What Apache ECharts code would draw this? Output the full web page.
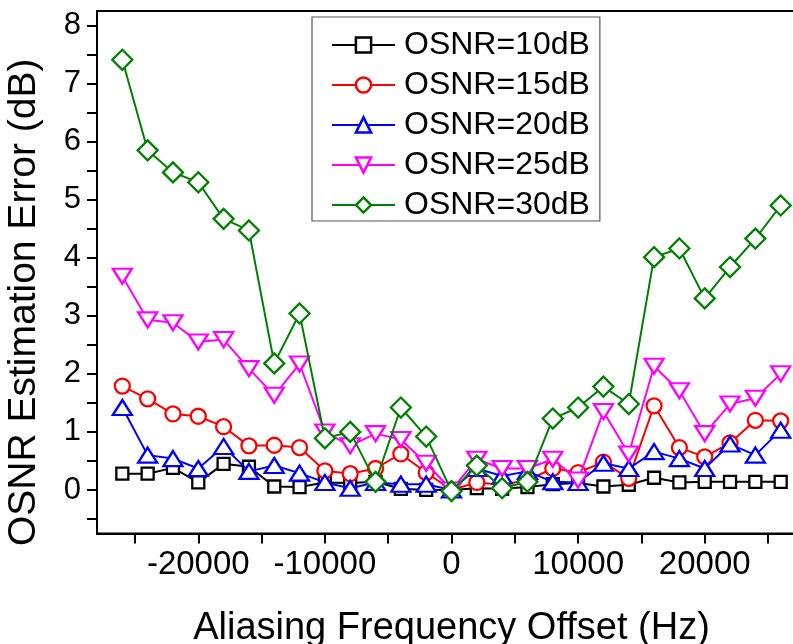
<!DOCTYPE html>
<html>
<head>
<meta charset="utf-8">
<title>OSNR Estimation Error</title>
<script src="https://cdn.jsdelivr.net/npm/echarts@6/dist/echarts.min.js"></script>
<style>
  html, body { margin: 0; padding: 0; background: #fff; }
  #chart { width: 793px; height: 644px; }
</style>
</head>
<body>
<div id="chart"></div>
<script>
// Aliasing frequency offsets (Hz)
const freqOffsets = [-26000, -24000, -22000, -20000, -18000, -16000, -14000, -12000, -10000,
  -8000, -6000, -4000, -2000, 0, 2000, 4000, 6000, 8000, 10000, 12000, 14000, 16000, 18000,
  20000, 22000, 24000, 26000];

// OSNR estimation error (dB) for each OSNR setting
const osnr10 = [0.28, 0.28, 0.38, 0.13, 0.45, 0.40, 0.06, 0.05, 0.13, 0.12, 0.14, 0.02, 0.00,
  0.00, 0.03, 0.02, 0.05, 0.10, 0.12, 0.06, 0.09, 0.21, 0.13, 0.14, 0.14, 0.14, 0.14];
const osnr15 = [1.79, 1.57, 1.31, 1.27, 1.09, 0.76, 0.77, 0.73, 0.33, 0.28, 0.37, 0.62, 0.30,
  0.00, 0.13, 0.09, 0.17, 0.37, 0.30, 0.48, 0.20, 1.45, 0.73, 0.57, 0.81, 1.20, 1.19];
const osnr20 = [1.42, 0.60, 0.54, 0.37, 0.75, 0.32, 0.42, 0.29, 0.13, 0.03, 0.13, 0.10, 0.10,
  0.00, 0.37, 0.24, 0.32, 0.14, 0.13, 0.46, 0.37, 0.66, 0.54, 0.37, 0.79, 0.60, 1.03];
const osnr25 = [3.68, 2.93, 2.88, 2.55, 2.59, 2.09, 1.63, 2.17, 1.00, 0.76, 0.97, 0.87, 0.46,
  0.00, 0.53, 0.37, 0.37, 0.53, 0.17, 1.35, 0.62, 2.13, 1.71, 0.97, 1.48, 1.58, 2.00];
const osnr30 = [7.41, 5.85, 5.47, 5.30, 4.67, 4.47, 2.18, 3.04, 0.89, 1.00, 0.14, 1.42, 0.92,
  -0.02, 0.42, 0.03, 0.14, 1.23, 1.42, 1.78, 1.48, 4.01, 4.16, 3.30, 3.84, 4.33, 4.90];

// Tick marks and labelled ticks on each axis
const xTickValues = [-25000, -20000, -15000, -10000, -5000, 0, 5000, 10000, 15000, 20000, 25000];
const xTickLabels = [-20000, -10000, 0, 10000, 20000];
const yTickValues = [-0.5, 0, 0.5, 1, 1.5, 2, 2.5, 3, 3.5, 4, 4.5, 5, 5.5, 6, 6.5, 7, 7.5, 8];
const yTickLabels = [0, 1, 2, 3, 4, 5, 6, 7, 8];

const seriesNames = ['OSNR=10dB', 'OSNR=15dB', 'OSNR=20dB', 'OSNR=25dB', 'OSNR=30dB'];
const seriesValues = [osnr10, osnr15, osnr20, osnr25, osnr30];
const seriesColors = ['#000000', '#ff0000', '#0000ff', '#ff00ff', '#008000'];
const seriesSymbols = ['rect', 'circle', 'triangle', 'triangle', 'diamond'];
const symbolSizes = [[12, 12], 15, [19, 15], [19, 15], [20, 20]];
const symbolRotations = [0, 0, 0, 180, 0];

const FONT = '"Liberation Sans", Arial, sans-serif';

const chart = echarts.init(document.getElementById('chart'), null, { renderer: 'canvas' });

const series = seriesNames.map((name, i) => ({
  name: name,
  type: 'line',
  data: freqOffsets.map((x, j) => [x, seriesValues[i][j]]),
  symbol: seriesSymbols[i],
  symbolSize: symbolSizes[i],
  symbolRotate: symbolRotations[i],
  showAllSymbol: true,
  lineStyle: { color: seriesColors[i], width: 2 },
  itemStyle: { color: '#ffffff', borderColor: seriesColors[i], borderWidth: 2.3 },
  emphasis: { disabled: true },
  animation: false,
  z: 2 + i
}));

chart.setOption({
  animation: false,
  backgroundColor: '#ffffff',
  textStyle: { fontFamily: FONT },
  grid: {
    left: 97, top: 11, width: 709, height: 522.5,
    outerBoundsMode: 'none',
    containLabel: false,
    show: true, borderColor: '#000', borderWidth: 2, backgroundColor: 'transparent'
  },
  legend: {
    orient: 'vertical',
    left: 312, top: 17,
    padding: [12, 10, 0, 19],
    itemWidth: 63, itemHeight: 19, itemGap: 8,
    backgroundColor: '#fff',
    borderColor: '#555', borderWidth: 1.2, borderRadius: 0,
    lineStyle: { width: 2 },
    itemStyle: { borderWidth: 2.5 },
    textStyle: { fontFamily: FONT, fontSize: 32, color: '#000', lineHeight: 32, padding: [0, 0, 0, 4] },
    data: seriesNames
  },
  xAxis: {
    type: 'value',
    min: -28000, max: 28000,
    name: 'Aliasing Frequency Offset (Hz)',
    nameLocation: 'middle',
    nameGap: 76,
    nameTextStyle: { fontFamily: FONT, fontSize: 38, color: '#000' },
    axisLine: { show: true, onZero: false, lineStyle: { color: '#000', width: 2 } },
    axisTick: { show: true, inside: false, length: 10, customValues: xTickValues,
      lineStyle: { color: '#000', width: 2 } },
    axisLabel: {
      fontFamily: FONT, fontSize: 33, color: '#000', margin: 15,
      customValues: xTickLabels,
      formatter: v => String(v)
    },
    splitLine: { show: false }
  },
  yAxis: {
    type: 'value',
    min: -0.75, max: 8.25,
    name: 'OSNR Estimation Error (dB)',
    nameLocation: 'middle',
    nameGap: 53,
    nameTextStyle: { fontFamily: FONT, fontSize: 39, color: '#000', padding: [0, 60, 0, 0] },
    axisLine: { show: true, onZero: false, lineStyle: { color: '#000', width: 2 } },
    axisTick: { show: true, inside: false, length: 10, customValues: yTickValues,
      lineStyle: { color: '#000', width: 2 } },
    axisLabel: {
      fontFamily: FONT, fontSize: 31, color: '#000', margin: 16,
      customValues: yTickLabels
    },
    splitLine: { show: false }
  },
  series: series
});
</script>
</body>
</html>
